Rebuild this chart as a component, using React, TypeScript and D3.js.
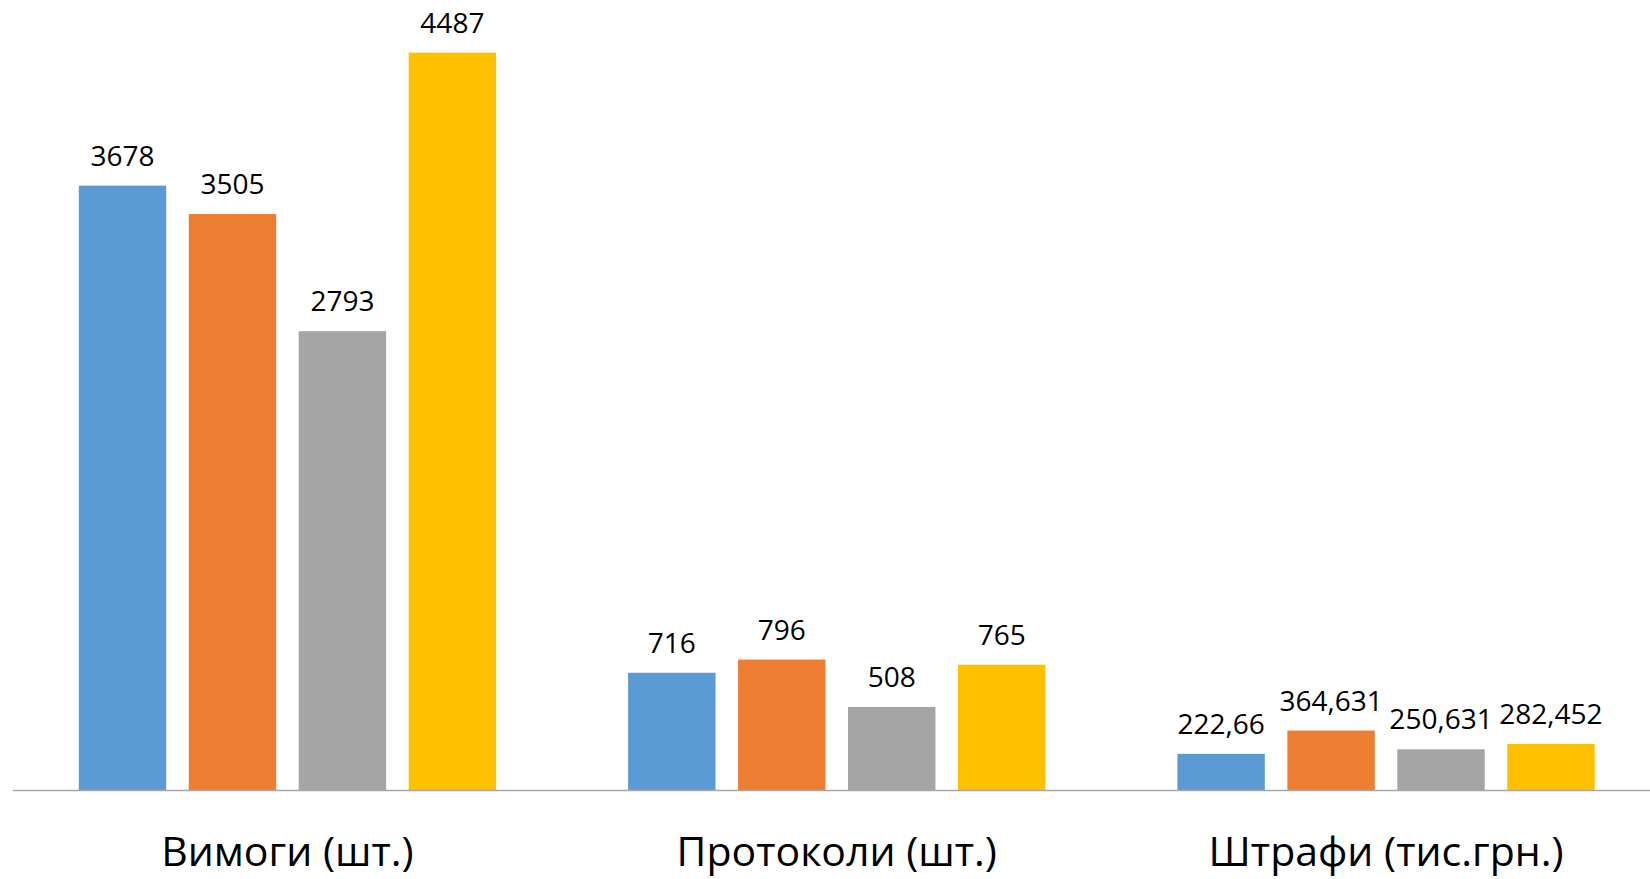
import React from "react";
import * as d3 from "d3";

const categories = ["Вимоги (шт.)", "Протоколи (шт.)", "Штрафи (тис.грн.)"];
const seriesKeys = ["s1", "s2", "s3", "s4"];
const seriesColors = ["#5B9BD5", "#ED7D31", "#A5A5A5", "#FFC000"];
const series1 = [3678, 716, 222.66];
const series2 = [3505, 796, 364.631];
const series3 = [2793, 508, 250.631];
const series4 = [4487, 765, 282.452];
const seriesValues = [series1, series2, series3, series4];

const W = 1650;
const H = 879;
const FONT = "'Open Sans', 'Noto Sans', sans-serif";

export default function App() {
  const baseY = 790.5;
  const x0 = d3
    .scaleBand<string>()
    .domain(categories)
    .range([12.8, 12.8 + 549.3 * 3])
    .paddingInner(0)
    .paddingOuter(0);
  const x1 = d3
    .scaleBand<string>()
    .domain(seriesKeys)
    .range([66, 549.3 - 66])
    .paddingInner(0.205)
    .paddingOuter(0);
  const y = d3.scaleLinear().domain([0, 4487]).range([baseY, 52.6]);

  const fmt = (v: number) => String(v).replace(".", ",");

  return (
    <svg
      width={W}
      height={H}
      style={{ position: "absolute", left: 0, top: 0, background: "#fff" }}
    >
      <rect x={0} y={0} width={W} height={H} fill="#fff" />
      {categories.map((c, ci) => (
        <g key={c} transform={`translate(${x0(c)},0)`}>
          {seriesKeys.map((k, si) => {
            const v = seriesValues[si][ci];
            const bx = x1(k)!;
            const bw = x1.bandwidth();
            const top = y(v);
            return (
              <g key={k}>
                <rect x={bx} y={top} width={bw} height={baseY - top} fill={seriesColors[si]} />
                <text
                  x={bx + bw / 2}
                  y={top - 20}
                  textAnchor="middle"
                  fontFamily={FONT}
                  fontSize={28}
                  fill="#000"
                >
                  {fmt(v)}
                </text>
              </g>
            );
          })}
          <text
            x={x0.bandwidth() / 2}
            y={866}
            textAnchor="middle"
            fontFamily={FONT}
            fontSize={41}
            fill="#000"
          >
            {c}
          </text>
        </g>
      ))}
      <line x1={12.8} x2={W} y1={baseY} y2={baseY} stroke="#A6A6A6" strokeWidth={1.5} />
    </svg>
  );
}
